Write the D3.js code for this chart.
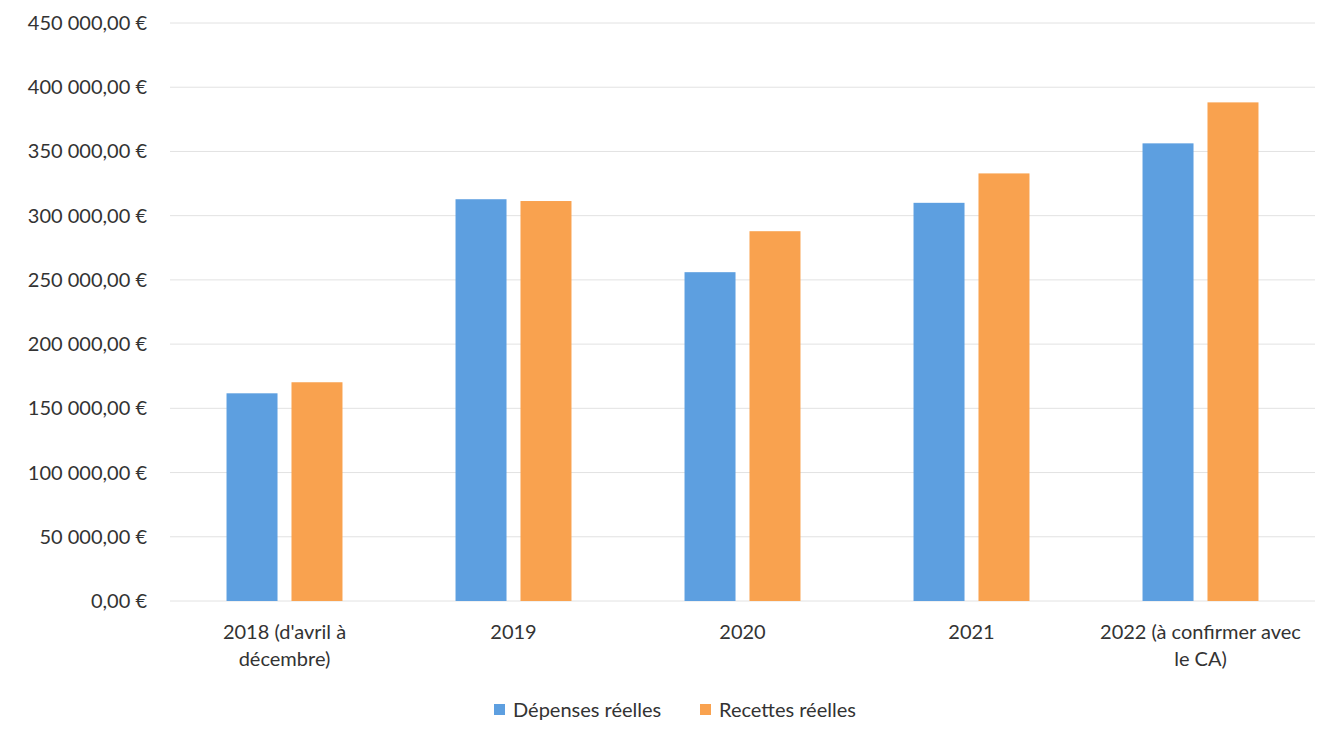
<!DOCTYPE html>
<html>
<head>
<meta charset="utf-8">
<script src="https://cdn.jsdelivr.net/npm/d3@7"></script>
<style>
  body { margin: 0; background: #fff; }
  text { font-family: Lato, "Open Sans", sans-serif; fill: #333; }
</style>
</head>
<body>
<div id="chart"></div>
<script>
const categories = [
  ["2018 (d'avril à", "décembre)"],
  ["2019"],
  ["2020"],
  ["2021"],
  ["2022 (à confirmer avec", "le CA)"]
];
const seriesNames = ["Dépenses réelles", "Recettes réelles"];
const depenses = [161700, 312800, 256000, 310000, 356300];
const recettes = [170300, 311400, 287900, 332900, 388200];
const yTicks = [0, 50000, 100000, 150000, 200000, 250000, 300000, 350000, 400000, 450000];

const colors = ["#5d9fe0", "#f9a24f"];
const W = 1335, H = 742;
const m = {left: 170, right: 20, top: 23, bottom: 141};

let svg = d3.select("#chart").append("svg").attr("width", W).attr("height", H);

let x = d3.scaleBand().domain(d3.range(categories.length)).range([m.left, W - m.right]);
let y = d3.scaleLinear().domain([0, 450000]).range([H - m.bottom, m.top]);
let inner = d3.scaleBand().domain([0, 1]).range([0, x.bandwidth()]).paddingInner(0.215).paddingOuter(0.87);

const fmt = (v) => {
  let s = d3.format(",.2f")(v);
  return s.replace(/,/g, " ").replace(".", ",") + " €";
};

// grid
svg.append("g").selectAll("line").data(yTicks).enter().append("line")
  .attr("x1", m.left).attr("x2", W - m.right)
  .attr("y1", d => y(d)).attr("y2", d => y(d))
  .attr("stroke", "#e2e2e2").attr("stroke-width", 1);

// y labels
svg.append("g").selectAll("text").data(yTicks).enter().append("text")
  .attr("x", 147).attr("y", d => y(d)).attr("dy", "0.35em")
  .attr("text-anchor", "end").style("font-size", "20px")
  .text(fmt);

// bars
let groups = svg.append("g").selectAll("g").data(categories).enter().append("g")
  .attr("transform", (d, i) => `translate(${x(i)},0)`);

[depenses, recettes].forEach((vals, s) => {
  groups.append("rect")
    .attr("x", inner(s)).attr("width", inner.bandwidth())
    .attr("y", (d, i) => y(vals[i]))
    .attr("height", (d, i) => y(0) - y(vals[i]))
    .attr("fill", colors[s]);
});

// x labels
groups.append("text")
  .attr("x", x.bandwidth() / 2).attr("y", H - m.bottom + 38)
  .attr("text-anchor", "middle").style("font-size", "20px")
  .selectAll("tspan").data(d => d).enter().append("tspan")
  .attr("x", x.bandwidth() / 2).attr("dy", (d, i) => i ? "1.35em" : 0)
  .text(d => d);

// legend
let legend = svg.append("g").attr("transform", "translate(494,710)");
let lx = [0, 206];
seriesNames.forEach((name, i) => {
  legend.append("rect").attr("x", lx[i]).attr("y", -6).attr("width", 11).attr("height", 11).attr("fill", colors[i]);
  legend.append("text").attr("x", lx[i] + 19).attr("y", 0).attr("dy", "0.35em")
    .style("font-size", "20px").text(name);
});
</script>
</body>
</html>
